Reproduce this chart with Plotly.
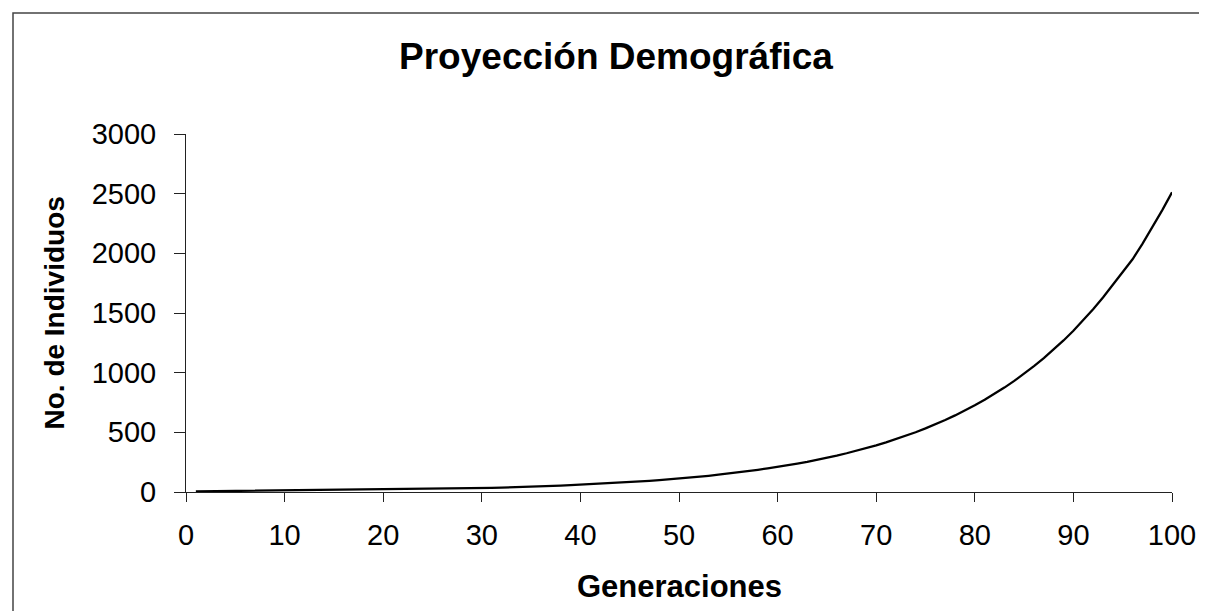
import plotly.graph_objects as go

generaciones = list(range(1, 101))
individuos = [
    5, 6, 6, 7, 7, 7, 8, 8, 9, 9,
    10, 11, 11, 12, 13, 14, 15, 16, 17, 18,
    19, 20, 21, 23, 24, 26, 27, 29, 31, 33,
    35, 37, 39, 42, 45, 47, 51, 54, 57, 61,
    65, 69, 73, 78, 83, 88, 94, 100, 106, 113,
    120, 128, 136, 145, 154, 164, 175, 186, 198, 210,
    224, 238, 253, 269, 287, 305, 325, 345, 367, 391,
    416, 443, 471, 501, 533, 567, 603, 642, 683, 727,
    773, 823, 875, 931, 991, 1054, 1122, 1193, 1270, 1351,
    1437, 1532, 1630, 1735, 1842, 1950, 2080, 2218, 2360, 2511,
]
x_ticks = [0, 10, 20, 30, 40, 50, 60, 70, 80, 90, 100]
y_ticks = [0, 500, 1000, 1500, 2000, 2500, 3000]

FONT = "Liberation Sans, Arial, sans-serif"
W, H = 1207, 611
L, R, T, B = 178, 43, 126, 127
PW, PH = W - L - R, H - T - B

def px(x):
    return (x - L) / PW

def py(y):
    return (H - B - y) / PH

fig = go.Figure(go.Scatter(
    x=generaciones, y=individuos, mode="lines",
    line=dict(color="black", width=2.25), showlegend=False,
))

fig.update_layout(
    width=W, height=H,
    margin=dict(l=L, r=R, t=T, b=B),
    paper_bgcolor="white", plot_bgcolor="white",
    font=dict(family=FONT, color="black"),
    title=dict(text="Proyección Demográfica", x=608 / W, xref="container", xanchor="center",
               y=1 - 48 / H, yref="container", yanchor="middle",
               font=dict(size=37, family=FONT, weight="bold", color="black")),
    xaxis=dict(range=[0, 100], tickvals=x_ticks, ticks="outside", ticklen=9, tickcolor="#222",
               showline=True, linecolor="#222", linewidth=1, showgrid=False, zeroline=False,
               tickfont=dict(size=29, family=FONT, color="black"), ticklabelstandoff=8),
    yaxis=dict(range=[0, 3000], tickvals=y_ticks, ticks="outside", ticklen=11, tickcolor="#222",
               showline=True, linecolor="#222", linewidth=1, showgrid=False, zeroline=False,
               tickfont=dict(size=29, family=FONT, color="black"), ticklabelstandoff=12),
    annotations=[
        dict(text="Generaciones", x=0.5, y=py(578), xref="paper", yref="paper",
             xanchor="center", yanchor="middle", showarrow=False,
             font=dict(size=31, family=FONT, weight="bold", color="black")),
        dict(text="No. de Individuos", x=px(45.5), y=0.5, xref="paper", yref="paper",
             xanchor="center", yanchor="middle", showarrow=False, textangle=-90,
             font=dict(size=28, family=FONT, weight="bold", color="black")),
    ],
    shapes=[
        dict(type="rect", xref="paper", yref="paper",
             x0=px(5), x1=px(1205.5), y0=py(5), y1=py(620),
             line=dict(color="#444", width=1.5), fillcolor="rgba(0,0,0,0)", layer="below"),
    ],
)

fig.write_html("out.html")
